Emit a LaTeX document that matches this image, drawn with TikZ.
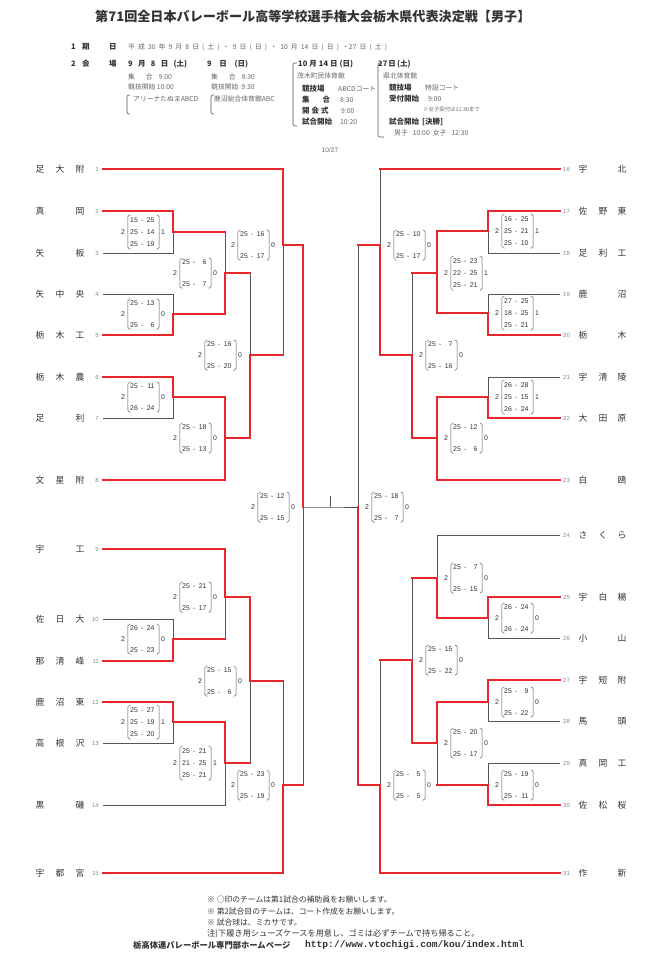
\documentclass[tikz,border=0pt]{standalone}
\usepackage{fontspec}
\setmainfont{Noto Sans CJK JP}
\newfontfamily\scf{Liberation Sans}
\newfontfamily\urlf{Liberation Mono}
\definecolor{brred}{HTML}{E8262B}
\definecolor{lnc}{HTML}{555555}
\definecolor{txt}{HTML}{333333}
\definecolor{numc}{HTML}{888888}
\definecolor{lite}{HTML}{666666}
\newcommand\scl[2]{\makebox[8.4pt][l]{#1}\hspace{2.6pt}-\hspace{2.6pt}\makebox[8.4pt][r]{#2}}
\newcommand\scTwo[6]{%
  \node[scn] (#1w) at (#2,#3) {2};
  \draw[brk] (#2+7.5,#3-15) -- (#2+4.8,#3-15) -- (#2+4.8,#3+15) -- (#2+7.5,#3+15);
  \node[scn,anchor=west] (#1a) at (#2+7,#3-11) {#4};
  \node[scn,anchor=west] (#1b) at (#2+7,#3+11) {#5};
  \draw[brk] (#2+33.5,#3-15) -- (#2+36.2,#3-15) -- (#2+36.2,#3+15) -- (#2+33.5,#3+15);
  \node[scn] (#1l) at (#2+40,#3) {#6};}
\newcommand\scThree[7]{%
  \node[scn] (#1w) at (#2,#3) {2};
  \draw[brk] (#2+7.5,#3-17) -- (#2+4.8,#3-17) -- (#2+4.8,#3+17) -- (#2+7.5,#3+17);
  \node[scn,anchor=west] (#1a) at (#2+7,#3-12) {#4};
  \node[scn,anchor=west] (#1b) at (#2+7,#3) {#5};
  \node[scn,anchor=west] (#1c) at (#2+7,#3+12) {#6};
  \draw[brk] (#2+33.5,#3-17) -- (#2+36.2,#3-17) -- (#2+36.2,#3+17) -- (#2+33.5,#3+17);
  \node[scn] (#1l) at (#2+40,#3) {#7};}
\newcommand\tmL[6]{%
  \node[tn] (#1x) at (40,#2) {#4};
  \node[tn] (#1y) at (60,#2) {#5};
  \node[tn] (#1z) at (80,#2) {#6};
  \node[tnum,anchor=east] (#1n) at (99,#2) {#3};
  \coordinate (#1) at (103,#2);}
\newcommand\tmR[6]{%
  \node[tn] (#1x) at (583,#2) {#4};
  \node[tn] (#1y) at (603,#2) {#5};
  \node[tn] (#1z) at (622,#2) {#6};
  \node[tnum,anchor=west] (#1n) at (563,#2) {#3};
  \coordinate (#1) at (560,#2);}
\begin{document}
\begin{tikzpicture}[x=1pt,y=-1pt,
  tn/.style={font=\fontsize{8.8}{9}\selectfont,text=txt,inner sep=0},
  tnum/.style={font=\scf\fontsize{6}{7}\selectfont,text=numc,inner sep=0},
  scn/.style={font=\scf\fontsize{6.9}{7}\selectfont,text=txt,inner sep=0},
  brk/.style={draw=lnc,line width=0.5pt,rounded corners=1.8pt},
  hbrk/.style={draw=lnc,line width=0.6pt,rounded corners=2pt},
  win/.style={draw=brred,line width=2.3pt,line cap=rect,line join=miter},
  lose/.style={draw=lnc,line width=0.9pt},
  hb/.style={font=\bfseries\fontsize{7.5}{8}\selectfont,text=txt,inner sep=0,anchor=west},
  hl/.style={font=\fontsize{6.8}{8}\selectfont,text=lite,inner sep=0,anchor=west},
  ft/.style={font=\fontsize{7.8}{8}\selectfont,text=txt,inner sep=0,anchor=west}]
\useasboundingbox (0,0) rectangle (660,960);
\fill[white] (0,0) rectangle (660,960);
% ---------- header ----------
\node[font=\bfseries\fontsize{13.1}{14}\selectfont,text=txt,inner sep=0,anchor=west] (title) at (95,17) {第71回全日本バレーボール高等学校選手権大会栃木県代表決定戦【男子】};
\node[hb] (h1a) at (71,47) {1};
\node[hb] (h1b) at (82,47) {期};
\node[hb] (h1c) at (109,47) {日};
\node[hl] (h1d) at (128,47) {\makebox[259pt][s]{平 成 30 年 9 月 8 日 ( 土 ) ・ 9 日 ( 日 ) ・ 10 月 14 日 ( 日 ) ・27 日 ( 土 )}};
\node[hb] (h2a) at (71,64) {2};
\node[hb] (h2b) at (82,64) {会};
\node[hb] (h2c) at (109,64) {場};
\node[hb] (d1) at (128,64) {\makebox[59pt][s]{9 月 8 日 (土)}};
\node[hb] (d2) at (207,64) {\makebox[41pt][s]{9 日 (日)}};
\node[hb] (d3) at (298,64) {\makebox[55pt][s]{10 月 14 日 (日)}};
\node[hb] (d4) at (378,64) {\makebox[30pt][s]{27 日 (土)}};
% 9/8
\node[hl] (a1) at (128,77) {集\hspace{11pt}合\hspace{6pt}9:00};
\node[hl] (a2) at (128,87) {競技開始 10:00};
\draw[hbrk] (130,95) -- (127,95) -- (127,114) -- (130,114);
\node[hl] (a3) at (133,99) {アリーナたぬまABCD};
% 9/9
\node[hl] (b1) at (211,77) {集\hspace{11pt}合\hspace{6pt}8:30};
\node[hl] (b2) at (211,87) {競技開始\hspace{3pt}9:30};
\draw[hbrk] (214,95) -- (211,95) -- (211,114) -- (214,114);
\node[hl] (b3) at (214,99) {鹿沼総合体育館ABC};
% 10/14
\draw[hbrk] (297,63) -- (293,63) -- (293,126) -- (297,126);
\node[hl] (c1) at (297,76) {茂木町民体育館};
\node[hb] (c2) at (302,89) {競技場};
\node[hl] (c2v) at (338,89) {ABCDコート};
\node[hb] (c3) at (302,100) {集\hspace{13pt}合};
\node[hl] (c3v) at (340,100) {8:30};
\node[hb] (c4) at (302,111) {開\hspace{2pt}会\hspace{2pt}式};
\node[hl] (c4v) at (341,111) {9:00};
\node[hb] (c5) at (302,122) {試合開始};
\node[hl] (c5v) at (340,122) {10:20};
% 27
\draw[hbrk] (382,63) -- (378,63) -- (378,137) -- (384,137);
\node[hl] (e1) at (383,76) {県北体育館};
\node[hb] (e2) at (389,88) {競技場};
\node[hl] (e2v) at (425,88) {特設コート};
\node[hb] (e3) at (389,99) {受付開始};
\node[hl] (e3v) at (428,99) {9:00};
\node[hl,font=\fontsize{5.4}{6}\selectfont] (e4) at (423,109) {※女子受付は11:30まで};
\node[hb] (e5) at (389,122) {試合開始\hspace{3pt}[決勝]};
\node[hl] (e6) at (394,133) {男子\hspace{5pt}10:00\hspace{3pt}女子\hspace{5pt}12:30};
\node[font=\scf\fontsize{6.5}{7}\selectfont,text=lite,inner sep=0] (date) at (330,150) {10/27};
% ---------- teams ----------
\tmL{t1}{169}{1}{足}{大}{附}
\tmL{t2}{211}{2}{真}{}{岡}
\tmL{t3}{253}{3}{矢}{}{板}
\tmL{t4}{294}{4}{矢}{中}{央}
\tmL{t5}{335}{5}{栃}{木}{工}
\tmL{t6}{377}{6}{栃}{木}{農}
\tmL{t7}{418}{7}{足}{}{利}
\tmL{t8}{480}{8}{文}{星}{附}
\tmL{t9}{549}{9}{宇}{}{工}
\tmL{t10}{619}{10}{佐}{日}{大}
\tmL{t11}{661}{11}{那}{清}{峰}
\tmL{t12}{702}{12}{鹿}{沼}{東}
\tmL{t13}{743}{13}{高}{根}{沢}
\tmL{t14}{805}{14}{黒}{}{磯}
\tmL{t15}{873}{15}{宇}{都}{宮}
\tmR{t16}{169}{16}{宇}{}{北}
\tmR{t17}{211}{17}{佐}{野}{東}
\tmR{t18}{253}{18}{足}{利}{工}
\tmR{t19}{294}{19}{鹿}{}{沼}
\tmR{t20}{335}{20}{栃}{}{木}
\tmR{t21}{377}{21}{宇}{清}{陵}
\tmR{t22}{418}{22}{大}{田}{原}
\tmR{t23}{480}{23}{白}{}{鴎}
\tmR{t24}{535}{24}{さ}{く}{ら}
\tmR{t25}{597}{25}{宇}{白}{楊}
\tmR{t26}{638}{26}{小}{}{山}
\tmR{t27}{680}{27}{宇}{短}{附}
\tmR{t28}{721}{28}{馬}{}{頭}
\tmR{t29}{763}{29}{真}{岡}{工}
\tmR{t30}{805}{30}{佐}{松}{桜}
\tmR{t31}{873}{31}{作}{}{新}
% ---------- gray lines ----------
\draw[lose] (t3) -- (173,253) -- (173,232);
\draw[lose] (t4) -- (173,294) -- (173,314);
\draw[lose] (225,232) -- (225,273);
\draw[lose] (t7) -- (173,418) -- (173,397);
\draw[lose] (250,273) -- (250,355);
\draw[lose] (283,245) -- (283,355);
\draw[lose] (303,507) -- (303,785);
\draw[lose] (t10) -- (173,619) -- (173,639);
\draw[lose] (225,597) -- (225,639);
\draw[lose] (t13) -- (173,743) -- (173,722);
\draw[lose] (t14) -- (225,805) -- (225,763);
\draw[lose] (250,681) -- (250,763);
\draw[lose] (283,681) -- (283,785);
\coordinate (fin) at (330,507);
\draw[lose] (303,507) -- (fin) -- (358,507);
\draw[lose] (fin) -- (330,496);
\draw[lose] (t18) -- (488,253) -- (488,231);
\draw[lose] (t19) -- (488,294) -- (488,313);
\draw[lose] (t21) -- (488,377) -- (488,397);
\draw[lose] (412,273) -- (412,355);
\draw[lose] (380,169) -- (380,245);
\draw[lose] (358,245) -- (358,507);
\draw[lose] (t24) -- (437,535) -- (437,578);
\draw[lose] (t26) -- (488,638) -- (488,618);
\draw[lose] (412,578) -- (412,660);
\draw[lose] (t28) -- (488,721) -- (488,702);
\draw[lose] (t29) -- (488,763) -- (488,785);
\draw[lose] (437,743) -- (437,785);
\draw[lose] (380,660) -- (380,785);
% ---------- red lines ----------
\draw[win] (t1) -- (283,169) -- (283,245) -- (303,245) -- (303,507);
\draw[win] (t2) -- (173,211) -- (173,232) -- (225,232);
\draw[win] (t5) -- (173,335) -- (173,314) -- (225,314) -- (225,273) -- (250,273);
\draw[win] (t6) -- (173,377) -- (173,397) -- (225,397) -- (225,438) -- (250,438) -- (250,355) -- (283,355);
\draw[win] (t8) -- (225,480) -- (225,438);
\draw[win] (t9) -- (225,549) -- (225,597) -- (250,597) -- (250,681) -- (283,681);
\draw[win] (t11) -- (173,661) -- (173,639) -- (225,639);
\draw[win] (t12) -- (173,702) -- (173,722) -- (225,722) -- (225,763) -- (250,763);
\draw[win] (t15) -- (283,873) -- (283,785) -- (303,785);
\draw[win] (t16) -- (380,169);
\draw[win] (t17) -- (488,211) -- (488,231) -- (437,231) -- (437,273) -- (412,273);
\draw[win] (t20) -- (488,335) -- (488,313) -- (437,313) -- (437,273);
\draw[win] (t22) -- (488,418) -- (488,397) -- (437,397) -- (437,438) -- (412,438) -- (412,355) -- (380,355) -- (380,245) -- (358,245);
\draw[win] (t23) -- (437,480) -- (437,438);
\draw[win] (t25) -- (488,597) -- (488,618) -- (437,618) -- (437,578) -- (412,578);
\draw[win] (t27) -- (488,680) -- (488,702) -- (437,702) -- (437,743) -- (412,743) -- (412,660) -- (380,660);
\draw[win] (t30) -- (488,805) -- (488,785) -- (437,785);
\draw[win] (t31) -- (380,873) -- (380,785) -- (358,785) -- (358,507);
% ---------- scores left ----------
\scThree{s23}{123}{232}{\scl{15}{25}}{\scl{25}{14}}{\scl{25}{19}}{1}
\scTwo{s45}{123}{314}{\scl{25}{13}}{\scl{25}{6}}{0}
\scTwo{s25}{175}{273}{\scl{25}{6}}{\scl{25}{7}}{0}
\scTwo{s67}{123}{397}{\scl{25}{11}}{\scl{26}{24}}{0}
\scTwo{s68}{175}{438}{\scl{25}{18}}{\scl{25}{13}}{0}
\scTwo{s58}{200}{355}{\scl{25}{16}}{\scl{25}{20}}{0}
\scTwo{s18}{233}{245}{\scl{25}{16}}{\scl{25}{17}}{0}
\scTwo{ssl}{253}{507}{\scl{25}{12}}{\scl{25}{15}}{0}
\scTwo{s1011}{123}{639}{\scl{26}{24}}{\scl{25}{23}}{0}
\scTwo{s911}{175}{597}{\scl{25}{21}}{\scl{25}{17}}{0}
\scThree{s1213}{123}{722}{\scl{25}{27}}{\scl{25}{19}}{\scl{25}{20}}{1}
\scThree{s1214}{175}{763}{\scl{25}{21}}{\scl{21}{25}}{\scl{25}{21}}{1}
\scTwo{s912}{200}{681}{\scl{25}{15}}{\scl{25}{6}}{0}
\scTwo{s915}{233}{785}{\scl{25}{23}}{\scl{25}{19}}{0}
% ---------- scores right ----------
\scThree{s1718}{497}{231}{\scl{16}{25}}{\scl{25}{21}}{\scl{25}{10}}{1}
\scThree{s1920}{497}{313}{\scl{27}{25}}{\scl{18}{25}}{\scl{25}{21}}{1}
\scThree{s1720}{446}{273}{\scl{25}{23}}{\scl{22}{25}}{\scl{25}{21}}{1}
\scThree{s2122}{497}{397}{\scl{26}{28}}{\scl{25}{15}}{\scl{26}{24}}{1}
\scTwo{s2223}{446}{438}{\scl{25}{12}}{\scl{25}{6}}{0}
\scTwo{s412a}{421}{355}{\scl{25}{7}}{\scl{25}{16}}{0}
\scTwo{s380a}{389}{245}{\scl{25}{10}}{\scl{25}{17}}{0}
\scTwo{ssr}{367}{507}{\scl{25}{18}}{\scl{25}{7}}{0}
\scTwo{s2526}{497}{618}{\scl{26}{24}}{\scl{26}{24}}{0}
\scTwo{s2425}{446}{578}{\scl{25}{7}}{\scl{25}{15}}{0}
\scTwo{s2728}{497}{702}{\scl{25}{9}}{\scl{25}{22}}{0}
\scTwo{s2930}{497}{785}{\scl{25}{19}}{\scl{25}{11}}{0}
\scTwo{s2730}{446}{743}{\scl{25}{20}}{\scl{25}{17}}{0}
\scTwo{s412b}{421}{660}{\scl{25}{15}}{\scl{25}{22}}{0}
\scTwo{s380b}{389}{785}{\scl{25}{5}}{\scl{25}{5}}{0}
% ---------- footer ----------
\node[ft] (f1) at (207,900) {※ ○印のチームは第1試合の補助員をお願いします。};
\node[ft] (f2) at (207,912) {※ 第2試合目のチームは、コート作成をお願いします。};
\node[ft] (f3) at (207,923) {※ 試合球は、ミカサです。};
\node[ft,font=\fontsize{8.2}{9}\selectfont] (f4) at (207,934) {注)下履き用シューズケースを用意し、ゴミは必ずチームで持ち帰ること。};
\node[ft,font=\bfseries\fontsize{8.3}{9}\selectfont] (f5) at (133,945) {栃高体連バレーボール専門部ホームページ};
\node[ft,font=\urlf\bfseries\fontsize{9.6}{10}\selectfont] (f6) at (305,945) {http://www.vtochigi.com/kou/index.html};
\end{tikzpicture}
\end{document}
